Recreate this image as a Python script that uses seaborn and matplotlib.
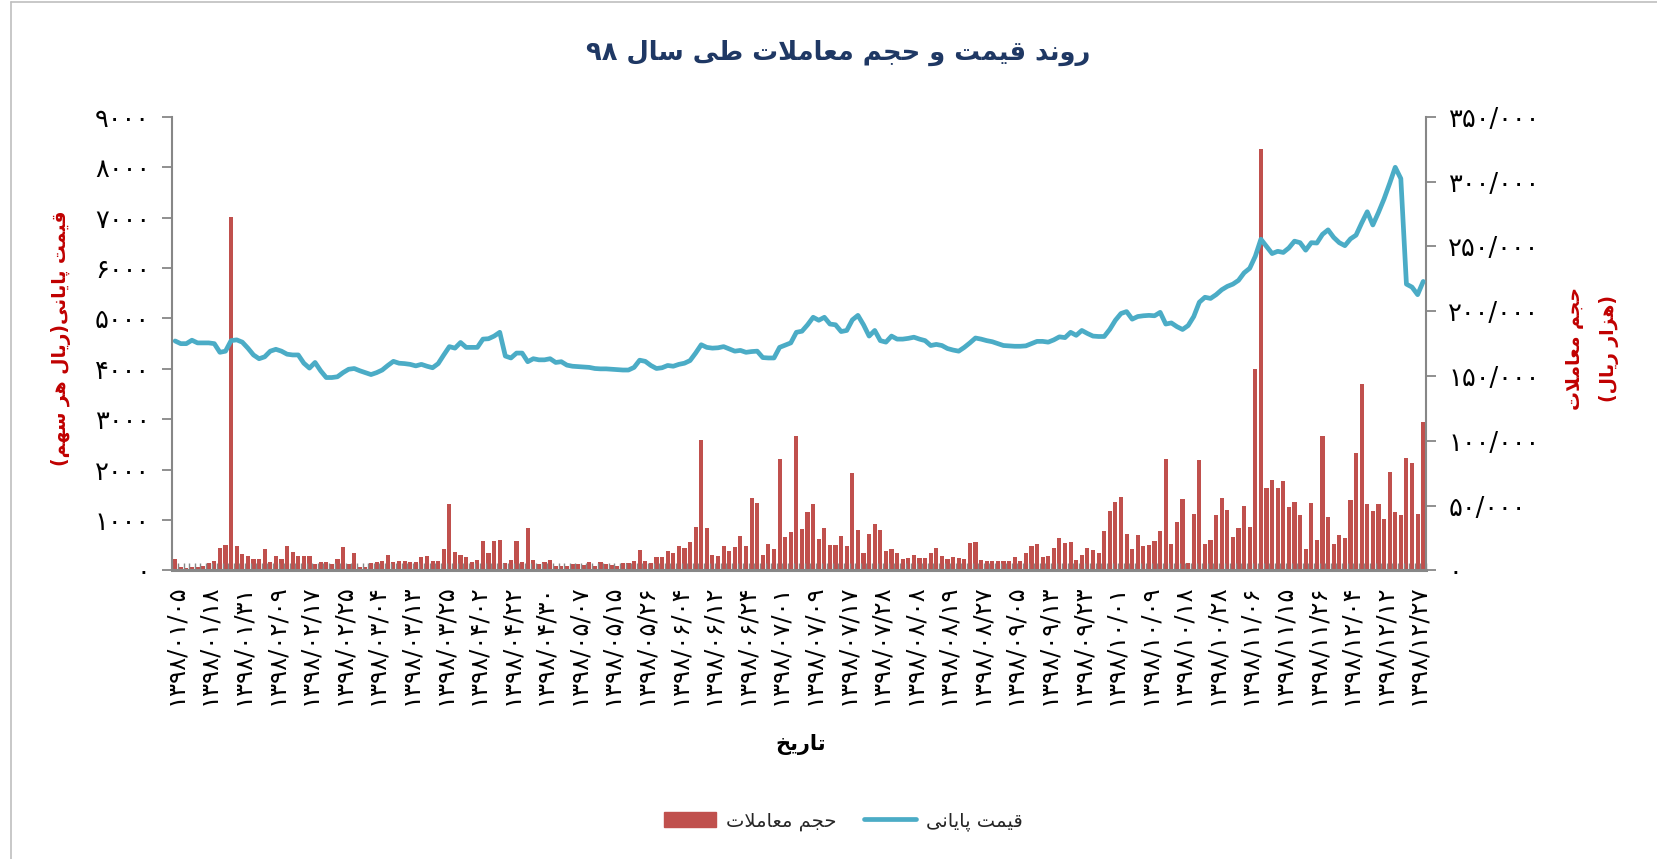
import re
import numpy as np
import pandas as pd
import matplotlib
matplotlib.use("Agg")
import matplotlib.pyplot as plt
from matplotlib.patches import Patch
from matplotlib.lines import Line2D
import seaborn as sns

# ---------------- data ----------------
volume_k = [
    8.7, 2.6, 2.0, 3.0, 2.6, 3.5, 5.5, 7.5, 17.4, 20.0,
    273, 18.9, 12.8, 10.8, 8.7, 8.7, 16.3, 6.4, 10.8, 8.7,
    18.6, 14.2, 11.0, 11.0, 11.0, 4.9, 6.4, 6.4, 5.2, 8.7,
    18.0, 4.7, 13.4, 2.9, 2.9, 5.8, 6.4, 7.6, 11.9, 6.7,
    7.0, 7.0, 6.4, 6.4,
    10.5, 11.3, 7.6, 7.3, 16.6, 50.9, 14.5, 12.2, 10.2, 6.4,
    8.1, 22.4, 13.7, 23.0, 23.8, 5.8, 8.4, 23.0, 6.4, 33.1,
    8.4, 4.9, 6.7, 8.4, 3.2, 3.8, 3.2, 5.2, 5.2, 4.4,
    6.4, 3.5, 6.4, 5.2, 4.1, 3.5, 5.8, 5.8, 7.6, 16.0,
    7.6, 5.5, 10.5, 10.2, 15.1, 13.1,
    18.9, 17.4, 22.1, 33.4, 100.6, 32.8, 12.2, 11.3, 18.6, 14.8,
    18.0, 26.7, 18.6, 56.1, 51.7, 11.9, 20.3, 16.3, 85.8, 25.9,
    29.4, 103.8, 32.0, 44.8, 51.2, 24.4, 32.6, 19.5, 19.8, 26.5,
    18.9, 75.0, 31.4, 13.7, 28.5, 35.5, 31.1, 15.1, 16.6, 13.7,
    8.7, 9.3, 11.9, 9.9, 9.6, 13.7,
    17.2, 10.8, 8.7, 10.5, 9.9, 8.7, 20.9, 21.8, 8.4, 7.3,
    7.3, 7.6, 7.3, 7.0, 10.2, 7.6, 13.1, 18.6, 20.1, 10.2,
    10.8, 17.4, 24.7, 21.2, 22.1, 7.8, 11.9, 17.4, 15.4, 13.4,
    30.8, 45.9, 52.9, 56.7, 28.5, 16.6, 27.0, 18.6, 19.5, 22.4,
    30.5, 86.3, 20.1, 37.5, 55.2,
    5.5, 43.6, 84.9, 20.3, 23.3, 42.4, 55.8, 46.5, 25.9,
    33.1, 50.0, 33.4, 155.2, 325.3, 63.7, 70.1, 63.7, 68.9, 49.1,
    52.9, 42.7, 16.3, 51.7, 23.8, 103.5, 41.0, 20.3, 27.3, 25.0,
    54.4, 90.4, 143.9, 50.9, 46.2, 51.2, 39.5, 75.9, 45.3, 42.7,
    86.6, 83.1, 43.9, 114.5,
]

price = [
    4552, 4499, 4499, 4567, 4514, 4514, 4514, 4499, 4327, 4350,
    4559, 4574, 4529, 4410, 4275, 4200, 4238, 4350, 4387, 4350,
    4290, 4275, 4275, 4111, 4014, 4126, 3961, 3827, 3827, 3842,
    3924, 3991, 4006, 3961, 3924, 3886, 3924, 3976, 4066, 4148,
    4111, 4103, 4088, 4058,
    4088, 4051, 4021, 4103, 4275, 4440, 4410, 4522, 4425, 4425,
    4425, 4589, 4597, 4649, 4724, 4253, 4215, 4312, 4312, 4141,
    4200, 4178, 4178, 4200, 4126, 4141, 4073, 4051, 4043, 4036,
    4028, 4006, 3999, 3999, 3991, 3984, 3976, 3976, 4028, 4171,
    4148, 4066, 4006, 4021, 4066, 4051,
    4088, 4111, 4163, 4312, 4477, 4425, 4410, 4417, 4440, 4395,
    4350, 4365, 4327, 4342, 4350, 4223, 4215, 4215, 4425, 4469,
    4514, 4724, 4746, 4873, 5022, 4963, 5022, 4888, 4873, 4739,
    4761, 4970, 5060, 4873, 4649, 4761, 4559, 4529, 4649, 4589,
    4589, 4604, 4627, 4589, 4559, 4462,
    4484, 4462, 4402, 4372, 4350, 4425, 4514, 4611, 4589, 4559,
    4537, 4499, 4462, 4455, 4447, 4447, 4455, 4499, 4544, 4544,
    4529, 4574, 4634, 4619, 4724, 4664, 4761, 4701, 4649, 4641,
    4641, 4783, 4963, 5097, 5135, 4985, 5037, 5052, 5060, 5052,
    5120, 4888, 4910, 4836, 4780,
    4858, 5037, 5321, 5419, 5396, 5471, 5568, 5635, 5680,
    5755, 5904, 5994, 6233, 6570, 6428, 6286, 6331, 6308, 6398,
    6532, 6502, 6353, 6502, 6495, 6667, 6756, 6607, 6502, 6443,
    6577, 6652, 6891, 7115, 6853, 7100, 7369, 7676, 7997, 7773,
    5680, 5620, 5471, 5733,
]

date_labels = [
    "1398/01/05", "1398/01/18", "1398/01/31", "1398/02/09", "1398/02/17",
    "1398/02/25", "1398/03/04", "1398/03/13", "1398/03/25", "1398/04/02",
    "1398/04/22", "1398/04/30", "1398/05/07", "1398/05/15", "1398/05/26",
    "1398/06/04", "1398/06/12", "1398/06/24", "1398/07/01", "1398/07/09",
    "1398/07/17", "1398/07/28", "1398/08/08", "1398/08/19", "1398/08/27",
    "1398/09/05", "1398/09/13", "1398/09/23", "1398/10/01", "1398/10/09",
    "1398/10/18", "1398/10/28", "1398/11/06", "1398/11/15", "1398/11/26",
    "1398/12/04", "1398/12/12", "1398/12/27",
]
label_step = 6

left_ticks = [0, 1000, 2000, 3000, 4000, 5000, 6000, 7000, 8000, 9000]
right_ticks = [0, 50000, 100000, 150000, 200000, 250000, 300000, 350000]

title_text = "روند قیمت و حجم معاملات طی سال ۹۸"
left_label_text = "قیمت پایانی(ریال هر سهم)"
right_label_line1 = "حجم معاملات"
right_label_line2 = "(هزار ریال)"
x_label_text = "تاریخ"
legend_bar_text = "حجم معاملات"
legend_line_text = "قیمت پایانی"

# ---------------- minimal Persian shaping for matplotlib ----------------
FORMS = {
    '\u0627': ('\uFE8D', '\uFE8E'), '\u0622': ('\uFE81', '\uFE82'),
    '\u062F': ('\uFEA9', '\uFEAA'), '\u0630': ('\uFEAB', '\uFEAC'),
    '\u0631': ('\uFEAD', '\uFEAE'), '\u0632': ('\uFEAF', '\uFEB0'),
    '\u0698': ('\uFB8A', '\uFB8B'), '\u0648': ('\uFEED', '\uFEEE'),
    '\u0628': ('\uFE8F', '\uFE90', '\uFE91', '\uFE92'),
    '\u067E': ('\uFB56', '\uFB57', '\uFB58', '\uFB59'),
    '\u062A': ('\uFE95', '\uFE96', '\uFE97', '\uFE98'),
    '\u062B': ('\uFE99', '\uFE9A', '\uFE9B', '\uFE9C'),
    '\u062C': ('\uFE9D', '\uFE9E', '\uFE9F', '\uFEA0'),
    '\u0686': ('\uFB7A', '\uFB7B', '\uFB7C', '\uFB7D'),
    '\u062D': ('\uFEA1', '\uFEA2', '\uFEA3', '\uFEA4'),
    '\u062E': ('\uFEA5', '\uFEA6', '\uFEA7', '\uFEA8'),
    '\u0633': ('\uFEB1', '\uFEB2', '\uFEB3', '\uFEB4'),
    '\u0634': ('\uFEB5', '\uFEB6', '\uFEB7', '\uFEB8'),
    '\u0635': ('\uFEB9', '\uFEBA', '\uFEBB', '\uFEBC'),
    '\u0636': ('\uFEBD', '\uFEBE', '\uFEBF', '\uFEC0'),
    '\u0637': ('\uFEC1', '\uFEC2', '\uFEC3', '\uFEC4'),
    '\u0638': ('\uFEC5', '\uFEC6', '\uFEC7', '\uFEC8'),
    '\u0639': ('\uFEC9', '\uFECA', '\uFECB', '\uFECC'),
    '\u063A': ('\uFECD', '\uFECE', '\uFECF', '\uFED0'),
    '\u0641': ('\uFED1', '\uFED2', '\uFED3', '\uFED4'),
    '\u0642': ('\uFED5', '\uFED6', '\uFED7', '\uFED8'),
    '\u06A9': ('\uFB8E', '\uFB8F', '\uFB90', '\uFB91'),
    '\u06AF': ('\uFB92', '\uFB93', '\uFB94', '\uFB95'),
    '\u0644': ('\uFEDD', '\uFEDE', '\uFEDF', '\uFEE0'),
    '\u0645': ('\uFEE1', '\uFEE2', '\uFEE3', '\uFEE4'),
    '\u0646': ('\uFEE5', '\uFEE6', '\uFEE7', '\uFEE8'),
    '\u0647': ('\uFEE9', '\uFEEA', '\uFEEB', '\uFEEC'),
    '\u06CC': ('\uFBFC', '\uFBFD', '\uFBFE', '\uFBFF'),
    '\u064A': ('\uFEF1', '\uFEF2', '\uFEF3', '\uFEF4'),
}
MIRROR = {'(': ')', ')': '('}


def _shape(s):
    toks, i = [], 0
    while i < len(s):
        if s[i] == '\u0644' and i + 1 < len(s) and s[i + 1] in '\u0627\u0622':
            toks.append('LA')
            i += 2
        else:
            toks.append(s[i])
            i += 1
    out = []
    for k, t in enumerate(toks):
        prev = toks[k - 1] if k > 0 else None
        nxt = toks[k + 1] if k + 1 < len(toks) else None
        cp = prev is not None and prev in FORMS and len(FORMS[prev]) == 4
        if t == 'LA':
            out.append('\uFEFC' if cp else '\uFEFB')
        elif t in FORMS:
            f = FORMS[t]
            if len(f) == 2:
                out.append(f[1] if cp else f[0])
            else:
                cn = nxt is not None and (nxt in FORMS or nxt == 'LA')
                if cp and cn:
                    out.append(f[3])
                elif cp:
                    out.append(f[1])
                elif cn:
                    out.append(f[2])
                else:
                    out.append(f[0])
        else:
            out.append(t)
    return ''.join(out)


def fa(s):
    shaped = _shape(s)
    runs = re.findall(r'[0-9\u06F0-\u06F9/]+|[^0-9\u06F0-\u06F9/]+', shaped)
    res = []
    for r in reversed(runs):
        if re.match(r'[0-9\u06F0-\u06F9/]', r):
            res.append(r)
        else:
            res.append(''.join(MIRROR.get(c, c) for c in reversed(r)))
    return ''.join(res)


FA_DIGITS = str.maketrans('0123456789', '\u06F0\u06F1\u06F2\u06F3\u06F4\u06F5\u06F6\u06F7\u06F8\u06F9')


def fa_num(s):
    return s.translate(FA_DIGITS)


# ---------------- plot ----------------
sns.set_theme(style="white")
plt.rcParams['font.family'] = ['DejaVu Sans']

RED = '#C0504D'
BLUE = '#4BACC6'
GRAY = '#878787'
LABEL_RED = '#C00000'
NAVY = '#1F3864'

n = len(price)
idx = list(range(n))
df = pd.DataFrame({'idx': idx, 'price': price, 'volume': [v * 1000 for v in volume_k]})

fig = plt.figure(figsize=(16.57, 8.59), dpi=100)
ax_p = fig.add_axes([0.1040, 0.3359, 0.7566, 0.5282])
ax_v = ax_p.twinx()
ax_p.set_zorder(ax_v.get_zorder() + 1)
ax_p.patch.set_visible(False)

sns.barplot(data=df, x='idx', y='volume', ax=ax_v, color=RED, saturation=1,
            width=0.74, errorbar=None, native_scale=False, linewidth=0)
sns.lineplot(data=df, x='idx', y='price', ax=ax_p, color=BLUE, linewidth=3.4)

ax_p.set_xlim(-0.5, n - 0.5)
ax_p.set_ylim(0, 9000)
ax_v.set_ylim(0, 350000)

# y ticks
ax_p.set_yticks(left_ticks)
ax_p.set_yticklabels([fa_num(str(v)) for v in left_ticks])
ax_v.set_yticks(right_ticks)
ax_v.set_yticklabels([fa_num('0' if v == 0 else f"{v // 1000}/000") for v in right_ticks])

# x ticks (shared x axis)
tick_pos = idx[::label_step][:len(date_labels)]
ax_p.set_xticks(tick_pos)
ax_p.set_xticklabels([fa_num(d) for d in date_labels], rotation=90, fontsize=17.5)
ax_p.set_xticks(np.arange(-0.5, n, 1), minor=True)
ax_v.tick_params(axis='x', which='both', bottom=False, top=False,
                 labelbottom=False, labeltop=False)

ax_p.set_xlabel('')
ax_p.set_ylabel('')
ax_v.set_xlabel('')
ax_v.set_ylabel('')

for sp in ['top', 'right']:
    ax_p.spines[sp].set_visible(False)
for sp in ['top', 'left', 'bottom']:
    ax_v.spines[sp].set_visible(False)
ax_p.spines['left'].set_color(GRAY)
ax_p.spines['left'].set_linewidth(1.5)
ax_p.spines['bottom'].set_color(GRAY)
ax_p.spines['bottom'].set_linewidth(2.2)
ax_v.spines['right'].set_color(GRAY)
ax_v.spines['right'].set_linewidth(1.5)

ax_p.tick_params(axis='y', which='major', direction='out', length=7, width=1.3,
                 color=GRAY, labelsize=18.5, pad=9, labelcolor='black', left=True)
ax_v.tick_params(axis='y', which='major', direction='out', length=7, width=1.3,
                 color=GRAY, labelsize=18.5, pad=9, labelcolor='black', right=True)
ax_p.tick_params(axis='x', which='major', length=0, pad=10, labelcolor='black')
ax_p.tick_params(axis='x', which='minor', direction='in', length=5, width=1.0,
                 color=GRAY, bottom=True)
ax_p.grid(False)
ax_v.grid(False)

# texts
fig.text(0.506, 0.938, fa(title_text), ha='center', va='center', fontsize=18.5,
         fontweight='bold', color=NAVY)
fig.text(0.0368, 0.6065, fa(left_label_text), ha='center', va='center', rotation=90,
         fontsize=13.5, fontweight='bold', color=LABEL_RED)
fig.text(0.961, 0.594, fa(right_label_line1) + '\n' + fa(right_label_line2), ha='center',
         va='center', rotation=90, fontsize=13.5, fontweight='bold', color=LABEL_RED,
         multialignment='center', linespacing=2.0)
fig.text(0.483, 0.133, fa(x_label_text), ha='center', va='center', fontsize=15,
         fontweight='bold', color='black')

handles = [Patch(facecolor=RED, edgecolor=RED),
           Line2D([0], [0], color=BLUE, linewidth=3.4)]
fig.legend(handles, [fa(legend_bar_text), fa(legend_line_text)], loc='center',
           bbox_to_anchor=(0.509, 0.044), ncol=2, frameon=False, fontsize=14,
           handlelength=2.7, handleheight=0.8, columnspacing=1.4, handletextpad=0.5)

# outer chart border
fig.add_artist(Line2D([10.6 / 1657, 10.6 / 1657], [0, 1 - 2 / 859], transform=fig.transFigure,
                      color='#BFBFBF', linewidth=1.2))
fig.add_artist(Line2D([10.6 / 1657, 1], [1 - 2 / 859, 1 - 2 / 859], transform=fig.transFigure,
                      color='#BFBFBF', linewidth=1.2))

fig.savefig('out.png', dpi=100)
